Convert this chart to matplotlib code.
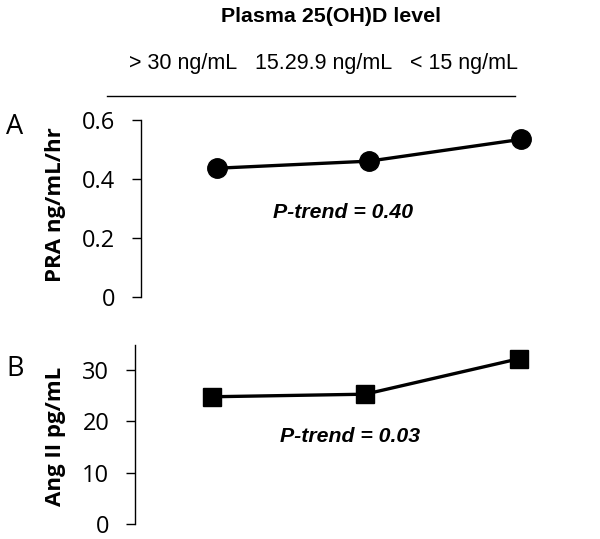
import matplotlib
matplotlib.use("Agg")
import matplotlib.pyplot as plt
from matplotlib.lines import Line2D

# Plasma 25(OH)D categories
categories = ["> 30 ng/mL", "15.29.9 ng/mL", "< 15 ng/mL"]
pra = [0.437, 0.461, 0.535]      # ng/mL/hr
ang2 = [24.8, 25.3, 32.2]        # pg/mL
pra_ticks = [0, 0.2, 0.4, 0.6]
pra_ticklabels = ["0", "0.2", "0.4", "0.6"]
ang_ticks = [0, 10, 20, 30]

TICK_FONT = "Open Sans"
ARIAL = "Liberation Sans"

fig = plt.figure(figsize=(6.0, 5.39), dpi=100)

def style_axis(ax):
    for s in ["top", "right", "bottom"]:
        ax.spines[s].set_visible(False)
    ax.spines["left"].set_linewidth(1.0)
    ax.set_xticks([])
    ax.tick_params(axis="y", direction="out", length=6.5, width=1.0, pad=12,
                   labelsize=17)
    for lab in ax.get_yticklabels():
        lab.set_fontfamily(TICK_FONT)
    ax.set_xlim(-0.5, 2.5)

# panel A
axA = fig.add_axes([0.235, 0.449, 0.76, 0.328])
xs = range(len(pra))
axA.plot(xs, pra, color="black", lw=2.4, marker="o", markersize=14, clip_on=False)
axA.set_ylim(0, 0.6)
axA.set_yticks(pra_ticks)
axA.set_yticklabels(pra_ticklabels)
style_axis(axA)
axA.text(0.83, 0.288, "P-trend = 0.40", ha="center", va="center", fontsize=15.3,
         fontweight="bold", fontstyle="italic", family=ARIAL)

# panel B
axB = fig.add_axes([0.225, 0.028, 0.767, 0.331])
axB.plot(xs, ang2, color="black", lw=2.4, marker="s", markersize=13.5, clip_on=False)
axB.set_ylim(0, 34.8)
axB.set_yticks(ang_ticks)
style_axis(axB)
axB.text(0.905, 17.1, "P-trend = 0.03", ha="center", va="center", fontsize=15.3,
         fontweight="bold", fontstyle="italic", family=ARIAL)

# y labels and panel letters (figure coordinates)
W, H = 600, 539
def fx(x): return x / W
def fy(y): return 1 - y / H

fig.text(fx(56), fy(205), "PRA ng/mL/hr", rotation=90, ha="center", va="center",
         fontsize=16, fontweight="bold", family=TICK_FONT)
fig.text(fx(56), fy(436), "Ang II pg/mL", rotation=90, ha="center", va="center",
         fontsize=16, fontweight="bold", family=TICK_FONT)
fig.text(fx(15), fy(127), "A", ha="center", va="center", fontsize=19.5, family=TICK_FONT)
fig.text(fx(15), fy(369), "B", ha="center", va="center", fontsize=19.5, family=TICK_FONT)

# header
fig.text(fx(331), fy(17), "Plasma 25(OH)D level", ha="center", va="center",
         fontsize=15.4, fontweight="bold", family=ARIAL)
for cx, lab in zip([183, 324, 464], categories):
    fig.text(fx(cx), fy(64), lab, ha="center", va="center", fontsize=15.5, family=ARIAL)
fig.add_artist(Line2D([fx(107), fx(515)], [fy(96), fy(96)], color="black", lw=1.0,
                      transform=fig.transFigure))

fig.savefig("out.png", dpi=100)
